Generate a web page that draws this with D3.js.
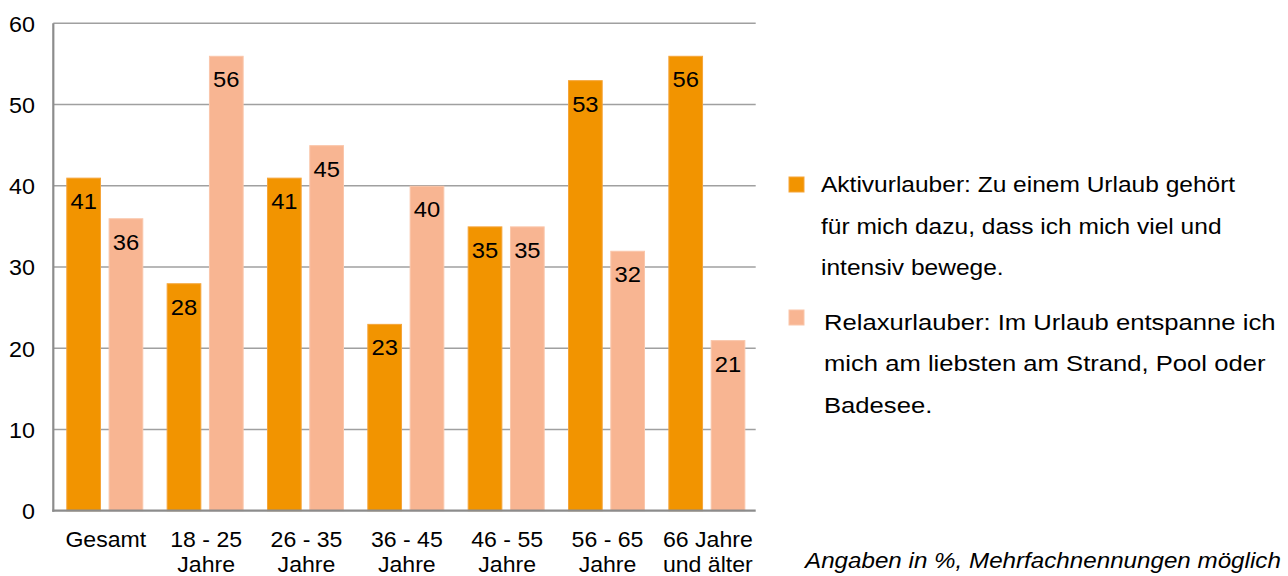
<!DOCTYPE html>
<html>
<head>
<meta charset="utf-8">
<script src="https://cdn.jsdelivr.net/npm/d3@7"></script>
<style>
  html, body { margin: 0; padding: 0; background: #fff; }
  svg { display: block; }
  text { font-family: "Liberation Sans", Arial, sans-serif; fill: #000; }
</style>
</head>
<body>
<svg id="chart" width="1288" height="576"></svg>
<script>
// ---- data ----
const categories = ["Gesamt", "18 - 25 Jahre", "26 - 35 Jahre", "36 - 45 Jahre", "46 - 55 Jahre", "56 - 65 Jahre", "66 Jahre und älter"];
const categoryLines = [["Gesamt"], ["18 - 25", "Jahre"], ["26 - 35", "Jahre"], ["36 - 45", "Jahre"], ["46 - 55", "Jahre"], ["56 - 65", "Jahre"], ["66 Jahre", "und älter"]];
const seriesKeys = ["aktiv", "relax"];
const aktivValues = [41, 28, 41, 23, 35, 53, 56];
const relaxValues = [36, 56, 45, 40, 35, 32, 21];
const yTicks = [0, 10, 20, 30, 40, 50, 60];
const legendLines = {
  aktiv: ["Aktivurlauber: Zu einem Urlaub gehört", "für mich dazu, dass ich mich viel und", "intensiv bewege."],
  relax: ["Relaxurlauber: Im Urlaub entspanne ich", "mich am liebsten am Strand, Pool oder", "Badesee."]
};
const footnote = "Angaben in %, Mehrfachnennungen möglich";

const colors = { aktiv: "#F29400", relax: "#F8B592" };
const strokes = { aktiv: "#F5A53A", relax: "#FAC6AA" };

const svg = d3.select("#chart");

const x = d3.scaleBand().domain(categories).range([53.3, 755.7]).padding(0);
const x1 = d3.scaleBand().domain(seriesKeys).range([13, 90]).paddingInner(0.18);
const y = d3.scaleLinear().domain([0, 60]).range([510.7, 23.3]);

// gridlines
svg.append("g").selectAll("line").data(yTicks.filter(d => d > 0)).join("line")
  .attr("x1", x.range()[0]).attr("x2", x.range()[1])
  .attr("y1", d => y(d)).attr("y2", d => y(d))
  .attr("stroke", "#A0A0A0").attr("stroke-width", 1.6);

// y tick labels
svg.append("g").selectAll("text").data(yTicks).join("text")
  .attr("text-anchor", "end")
  .attr("font-size", 22)
  .attr("transform", d => `translate(35,${y(d) + 8.3}) scale(1.06,1)`)
  .text(d => d);

// bars
const rows = categories.map((c, i) => ({ c, aktiv: aktivValues[i], relax: relaxValues[i] }));
const groups = svg.append("g").selectAll("g").data(rows).join("g")
  .attr("transform", d => `translate(${x(d.c)},0)`);

groups.selectAll("rect").data(d => seriesKeys.map(k => ({ k, v: d[k] }))).join("rect")
  .attr("x", d => x1(d.k) + 0.5)
  .attr("width", x1.bandwidth() - 1)
  .attr("y", d => y(d.v) + 0.5)
  .attr("height", d => y(0) - y(d.v) - 0.5)
  .attr("fill", d => colors[d.k])
  .attr("stroke", d => strokes[d.k])
  .attr("stroke-width", 1);

groups.selectAll("text").data(d => seriesKeys.map(k => ({ k, v: d[k] }))).join("text")
  .attr("text-anchor", "middle")
  .attr("font-size", 22)
  .attr("transform", d => `translate(${x1(d.k) + x1.bandwidth() / 2},${y(d.v) + 31.5}) scale(1.08,1)`)
  .text(d => d.v);

// axes lines
svg.append("line")
  .attr("x1", x.range()[0]).attr("x2", x.range()[0])
  .attr("y1", y(60)).attr("y2", y(0) + 1)
  .attr("stroke", "#8C8C8C").attr("stroke-width", 2.2);
svg.append("line")
  .attr("x1", x.range()[0] - 1).attr("x2", x.range()[1])
  .attr("y1", y(0)).attr("y2", y(0))
  .attr("stroke", "#8C8C8C").attr("stroke-width", 2.2);

// category labels
const cx = c => x(c) + (x1("aktiv") + x1("relax") + x1.bandwidth()) / 2 + 1;
categories.forEach((c, i) => {
  categoryLines[i].forEach((line, j) => {
    svg.append("text")
      .attr("text-anchor", "middle")
      .attr("font-size", 22)
      .attr("transform", `translate(${cx(c)},${546.7 + j * 24.8}) scale(1.05,1)`)
      .text(line);
  });
});

// legend
const legendPos = {
  aktiv: { sq: [789, 177], tx: 821, base: 192, sx: 1.115 },
  relax: { sq: [789, 310], tx: 824, base: 329.5, sx: 1.165 }
};
seriesKeys.forEach(k => {
  const p = legendPos[k];
  svg.append("rect").attr("x", p.sq[0]).attr("y", p.sq[1]).attr("width", 15).attr("height", 15)
    .attr("fill", colors[k]).attr("stroke", strokes[k]).attr("stroke-width", 1);
  legendLines[k].forEach((line, j) => {
    svg.append("text")
      .attr("font-size", 22)
      .attr("transform", `translate(${p.tx},${p.base + j * 41.6}) scale(${p.sx},1)`)
      .text(line);
  });
});

// footnote
svg.append("text")
  .attr("font-size", 21.5)
  .attr("font-style", "italic")
  .attr("transform", "translate(805,567.5) scale(1.125,1)")
  .text(footnote);
</script>
</body>
</html>
